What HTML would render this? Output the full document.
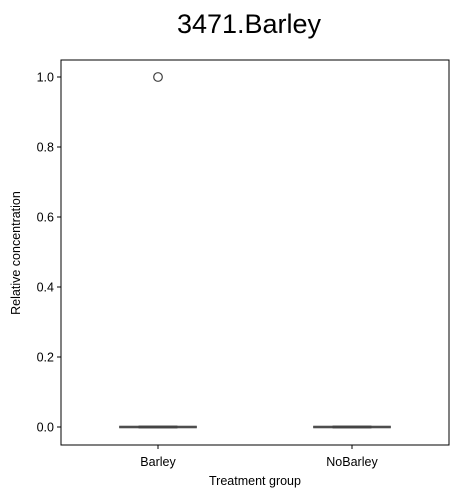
<!DOCTYPE html>
<html><head><meta charset="utf-8"><style>
body{margin:0;background:#fff;}
svg text{font-family:"Liberation Sans","DejaVu Sans",sans-serif;}
</style></head><body>
<svg id="c" width="458" height="498" xmlns="http://www.w3.org/2000/svg"></svg>
<script>
const categories = ["Barley","NoBarley"];
const q1 = [0,0];
const median = [0,0];
const q3 = [0,0];
const whiskLo = [0,0];
const whiskHi = [0,0];
const outliers = [[1.0],[]];
const yTicks = [0.0,0.2,0.4,0.6,0.8,1.0];
const yTickLabels = ["0.0","0.2","0.4","0.6","0.8","1.0"];

const L=61,R=449,T=60,B=445;
const y=v=>427+(0-v)*350;
const bw=(R-L)/categories.length;
const x=i=>L+bw*(i+0.5);
const NS="http://www.w3.org/2000/svg";
const svg=document.getElementById('c');
function mk(tag,attrs,parent){const e=document.createElementNS(NS,tag);for(const k in attrs)e.setAttribute(k,attrs[k]);(parent||svg).appendChild(e);return e;}

const title=mk('text',{x:249,y:33,'font-size':27,'text-anchor':'middle',fill:'#000'});
title.textContent='3471.Barley';



categories.forEach((c,i)=>{
  const g=mk('g',{});
  
  
  const half=bw*0.2;
  const cx=x(i);
  const h=Math.max(0,y(q1[i])-y(q3[i]));
  mk('rect',{x:cx-half,y:y(q3[i])-1.3,width:half*2,height:h+2.6,fill:'#555',stroke:'none'},g);
  mk('line',{x1:cx,x2:cx,y1:y(whiskLo[i]),y2:y(q1[i]),stroke:'#3f3f3f','stroke-width':1.5},g);
  mk('line',{x1:cx,x2:cx,y1:y(q3[i]),y2:y(whiskHi[i]),stroke:'#3f3f3f','stroke-width':1.5},g);
  mk('line',{x1:cx-half/2,x2:cx+half/2,y1:y(whiskLo[i]),y2:y(whiskLo[i]),stroke:'#3a3a3a','stroke-width':2.6},g);
  mk('line',{x1:cx-half/2,x2:cx+half/2,y1:y(whiskHi[i]),y2:y(whiskHi[i]),stroke:'#3a3a3a','stroke-width':2.6},g);
  mk('line',{x1:cx-half,x2:cx+half,y1:y(median[i]),y2:y(median[i]),stroke:'#4a4a4a','stroke-width':1.2},g);
  outliers[i].forEach(v=>{
    const o=mk('circle',{cx:cx,cy:y(v),r:4.3,fill:'none',stroke:'#3f3f3f','stroke-width':1.2},g);
    
    
  });
});

const fr=mk('rect',{x:L,y:T,width:R-L,height:B-T,fill:'none',stroke:'#000','stroke-width':1});



yTicks.forEach((v,i)=>{
  mk('line',{x1:L-4,x2:L,y1:y(v),y2:y(v),stroke:'#000','stroke-width':1});
  const t=mk('text',{x:L-7,y:y(v)+4.5,'font-size':12.5,'text-anchor':'end',fill:'#000'});
  t.textContent=yTickLabels[i];
  
  
});
categories.forEach((c,i)=>{
  mk('line',{x1:x(i),x2:x(i),y1:B,y2:B+4,stroke:'#000','stroke-width':1});
  const t=mk('text',{x:x(i),y:B+21,'font-size':12.5,'text-anchor':'middle',fill:'#000'});
  t.textContent=c;
  
  
});
const xt=mk('text',{x:255,y:485,'font-size':12.5,'text-anchor':'middle',fill:'#000'});
xt.textContent='Treatment group';


const yt=mk('text',{x:0,y:0,'font-size':12.5,'text-anchor':'middle',fill:'#000',transform:'translate(20,253) rotate(-90)'});
yt.textContent='Relative concentration';


</script>
</body></html>
